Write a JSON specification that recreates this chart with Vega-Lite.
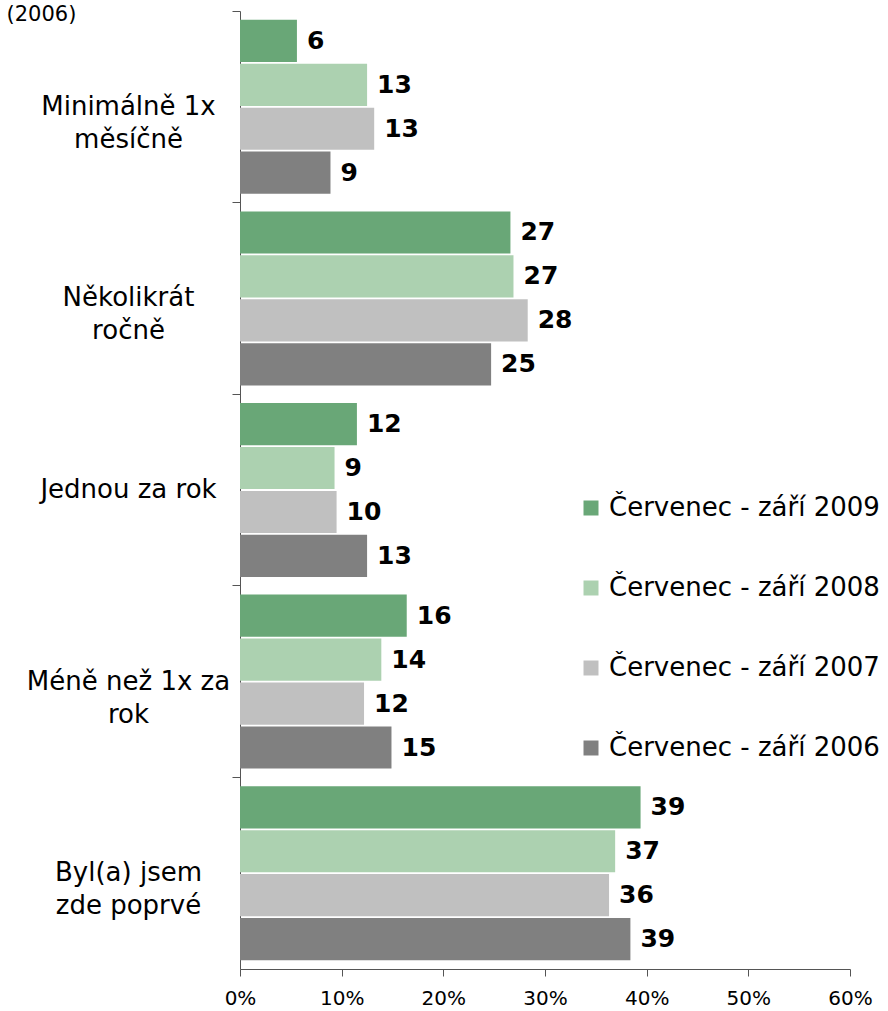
{
  "$schema": "https://vega.github.io/schema/vega-lite/v6.json",
  "autosize": {"type": "none"},
  "width": 610,
  "height": 958,
  "padding": {"left": 240, "top": 11, "right": 38, "bottom": 42},
  "background": "white",
  "config": {"view": {"stroke": null}, "font": "DejaVu Sans"},
  "data": {"values": [
    {"cat": "Minimálně 1x měsíčně", "series": "Červenec - září 2009", "value": 5.6, "label": "6"},
    {"cat": "Minimálně 1x měsíčně", "series": "Červenec - září 2008", "value": 12.5, "label": "13"},
    {"cat": "Minimálně 1x měsíčně", "series": "Červenec - září 2007", "value": 13.2, "label": "13"},
    {"cat": "Minimálně 1x měsíčně", "series": "Červenec - září 2006", "value": 8.9, "label": "9"},
    {"cat": "Několikrát ročně", "series": "Červenec - září 2009", "value": 26.6, "label": "27"},
    {"cat": "Několikrát ročně", "series": "Červenec - září 2008", "value": 26.9, "label": "27"},
    {"cat": "Několikrát ročně", "series": "Červenec - září 2007", "value": 28.3, "label": "28"},
    {"cat": "Několikrát ročně", "series": "Červenec - září 2006", "value": 24.7, "label": "25"},
    {"cat": "Jednou za rok", "series": "Červenec - září 2009", "value": 11.5, "label": "12"},
    {"cat": "Jednou za rok", "series": "Červenec - září 2008", "value": 9.3, "label": "9"},
    {"cat": "Jednou za rok", "series": "Červenec - září 2007", "value": 9.5, "label": "10"},
    {"cat": "Jednou za rok", "series": "Červenec - září 2006", "value": 12.5, "label": "13"},
    {"cat": "Méně než 1x za rok", "series": "Červenec - září 2009", "value": 16.4, "label": "16"},
    {"cat": "Méně než 1x za rok", "series": "Červenec - září 2008", "value": 13.9, "label": "14"},
    {"cat": "Méně než 1x za rok", "series": "Červenec - září 2007", "value": 12.2, "label": "12"},
    {"cat": "Méně než 1x za rok", "series": "Červenec - září 2006", "value": 14.9, "label": "15"},
    {"cat": "Byl(a) jsem zde poprvé", "series": "Červenec - září 2009", "value": 39.4, "label": "39"},
    {"cat": "Byl(a) jsem zde poprvé", "series": "Červenec - září 2008", "value": 36.9, "label": "37"},
    {"cat": "Byl(a) jsem zde poprvé", "series": "Červenec - září 2007", "value": 36.3, "label": "36"},
    {"cat": "Byl(a) jsem zde poprvé", "series": "Červenec - září 2006", "value": 38.4, "label": "39"}
  ]},
  "encoding": {
    "y": {
      "field": "cat", "type": "nominal",
      "sort": ["Minimálně 1x měsíčně", "Několikrát ročně", "Jednou za rok", "Méně než 1x za rok", "Byl(a) jsem zde poprvé"],
      "scale": {"paddingInner": 0, "paddingOuter": 0},
      "axis": {
        "title": "(2006)",
        "titleAngle": 0, "titleX": -234, "titleY": 3, "titleAlign": "left", "titleBaseline": "middle",
        "titleFontSize": 21, "titleFontWeight": "normal", "titleColor": "black",
        "bandPosition": 0,
        "tickSize": 8, "tickColor": "#555", "domainColor": "#555",
        "labelAlign": "center", "labelBaseline": "middle", "labelPadding": 104,
        "labelFontSize": 26, "labelColor": "black", "labelLineHeight": 33, "labelLimit": 300,
        "labelExpr": "datum.value == 'Minimálně 1x měsíčně' ? ['Minimálně 1x', 'měsíčně'] : datum.value == 'Několikrát ročně' ? ['Několikrát', 'ročně'] : datum.value == 'Méně než 1x za rok' ? ['Méně než 1x za', 'rok'] : datum.value == 'Byl(a) jsem zde poprvé' ? ['Byl(a) jsem', 'zde poprvé'] : datum.value"
      }
    },
    "yOffset": {
      "field": "series", "type": "nominal",
      "sort": ["Červenec - září 2009", "Červenec - září 2008", "Červenec - září 2007", "Červenec - září 2006"],
      "scale": {"paddingInner": 0.04, "paddingOuter": 0.2}
    },
    "x": {
      "field": "value", "type": "quantitative",
      "scale": {"domain": [0, 60], "nice": false},
      "axis": {
        "title": null, "values": [0, 10, 20, 30, 40, 50, 60], "grid": false,
        "labelExpr": "datum.value + '%'", "labelFontSize": 20, "labelColor": "black",
        "labelFlush": false, "labelOverlap": false,
        "tickSize": 7, "tickColor": "#555", "domainColor": "#555", "labelPadding": 12
      }
    }
  },
  "layer": [
    {
      "mark": {"type": "bar", "stroke": null},
      "encoding": {
        "color": {
          "field": "series", "type": "nominal",
          "sort": ["Červenec - září 2009", "Červenec - září 2008", "Červenec - září 2007", "Červenec - září 2006"],
          "scale": {"range": ["#69a777", "#acd1b0", "#c0c0c0", "#808080"]},
          "legend": {
            "title": null, "orient": "none", "legendX": 338, "legendY": 484,
            "symbolType": "square", "symbolSize": 225, "symbolStrokeWidth": 0,
            "labelFontSize": 26, "labelColor": "black", "rowPadding": 54, "labelLimit": 400, "labelOffset": 5
          }
        }
      }
    },
    {
      "mark": {"type": "text", "align": "left", "baseline": "middle", "dx": 10, "fontSize": 25, "fontWeight": "bold", "color": "black"},
      "encoding": {"text": {"field": "label"}}
    }
  ]
}
